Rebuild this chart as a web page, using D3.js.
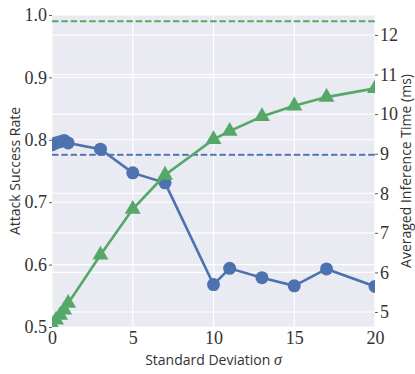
<!DOCTYPE html>
<html>
<head>
<meta charset="utf-8">
<script src="https://cdn.jsdelivr.net/npm/d3@7"></script>
<style>
  body { margin: 0; background: #fff; }
  .tick text { font-family: "Liberation Serif", serif; font-size: 18px; fill: #333; }
  .axisLabel { font-family: "Open Sans", "DejaVu Sans", sans-serif; font-size: 14px; fill: #333; }
</style>
</head>
<body>
<div class="chart"></div>
<script>
// sigma values on the x axis
var sigma = [0, 0.25, 0.5, 0.75, 1, 3, 5, 7, 10, 11, 13, 15, 17, 20];
// attack success rate (left axis)
var asr = [0.792, 0.795, 0.797, 0.799, 0.795, 0.785, 0.747, 0.731, 0.568, 0.594, 0.579, 0.566, 0.593, 0.565];
// averaged inference time in ms (right axis)
var infTime = [4.68, 4.8, 4.92, 5.05, 5.22, 6.44, 7.6, 8.46, 9.36, 9.57, 9.94, 10.21, 10.43, 10.65];
// baselines (dashed)
var asrBaseline = 0.776;
var timeBaseline = 12.35;

var xTicks = [0, 5, 10, 15, 20];
var leftTicks = [0.5, 0.6, 0.7, 0.8, 0.9, 1.0];
var rightTicks = [5, 6, 7, 8, 9, 10, 11, 12];

var svgWidth = 415, svgHeight = 374;
var margin = { top: 15, right: 40, bottom: 47, left: 52 };
var chartWidth = svgWidth - margin.left - margin.right;   // 323
var chartHeight = svgHeight - margin.top - margin.bottom; // 312

var blue = "#4C72B0", green = "#55A868";

var svg = d3.select(".chart").append("svg")
  .attr("width", svgWidth)
  .attr("height", svgHeight);

var chartGroup = svg.append("g")
  .attr("transform", `translate(${margin.left}, ${margin.top})`);

// scales
var xScale = d3.scaleLinear().domain([0, 20]).range([0, chartWidth]);
var yLeft = d3.scaleLinear().domain([0.5, 1.0]).range([chartHeight, 0]);
var yRight = d3.scaleLinear().domain([4.62, 12.505]).range([chartHeight, 0]);

// background
chartGroup.append("rect")
  .attr("width", chartWidth)
  .attr("height", chartHeight)
  .attr("fill", "#EAEAF2");

// grid lines: x, left y and right y
var grid = chartGroup.append("g").attr("stroke", "#fff").attr("stroke-width", 1.1);
grid.selectAll(".gx").data(xTicks).enter().append("line")
  .attr("x1", d => xScale(d)).attr("x2", d => xScale(d))
  .attr("y1", 0).attr("y2", chartHeight);
grid.selectAll(".gl").data(leftTicks).enter().append("line")
  .attr("x1", 0).attr("x2", chartWidth)
  .attr("y1", d => yLeft(d)).attr("y2", d => yLeft(d));
grid.selectAll(".gr").data(rightTicks).enter().append("line")
  .attr("x1", 0).attr("x2", chartWidth)
  .attr("y1", d => yRight(d)).attr("y2", d => yRight(d));

// clip like matplotlib does
svg.append("defs").append("clipPath").attr("id", "plotClip")
  .append("rect").attr("width", chartWidth).attr("height", chartHeight);

var plot = chartGroup.append("g").attr("clip-path", "url(#plotClip)");

// blue series: attack success rate
var asrLine = d3.line().x((d, i) => xScale(sigma[i])).y(d => yLeft(d));
plot.append("path")
  .datum(asr)
  .attr("d", asrLine)
  .attr("fill", "none")
  .attr("stroke", blue)
  .attr("stroke-width", 2.6);
plot.selectAll(".dot").data(asr).enter().append("circle")
  .attr("cx", (d, i) => xScale(sigma[i]))
  .attr("cy", d => yLeft(d))
  .attr("r", 6.5)
  .attr("fill", blue);

// blue baseline
plot.append("line")
  .attr("x1", 0).attr("x2", chartWidth)
  .attr("y1", yLeft(asrBaseline)).attr("y2", yLeft(asrBaseline))
  .attr("stroke", blue).attr("stroke-width", 2)
  .attr("stroke-dasharray", "6.5,2.8");

// green series: inference time (twin axis, drawn on top)
var timeLine = d3.line().x((d, i) => xScale(sigma[i])).y(d => yRight(d));
plot.append("path")
  .datum(infTime)
  .attr("d", timeLine)
  .attr("fill", "none")
  .attr("stroke", green)
  .attr("stroke-width", 2.6);
var tri = d3.symbol().type(d3.symbolTriangle).size(110);
plot.selectAll(".tri").data(infTime).enter().append("path")
  .attr("d", tri)
  .attr("transform", (d, i) => `translate(${xScale(sigma[i])}, ${yRight(d)})`)
  .attr("fill", green);

// green baseline
plot.append("line")
  .attr("x1", 0).attr("x2", chartWidth)
  .attr("y1", yRight(timeBaseline)).attr("y2", yRight(timeBaseline))
  .attr("stroke", green).attr("stroke-width", 2)
  .attr("stroke-dasharray", "6.5,2.8");

// axes
var bottomAxis = d3.axisBottom(xScale).tickValues(xTicks).tickSize(0).tickPadding(4).tickFormat(d3.format("d"));
var leftAxis = d3.axisLeft(yLeft).tickValues(leftTicks).tickSize(3).tickPadding(2).tickFormat(d3.format(".1f"));
var rightAxis = d3.axisRight(yRight).tickValues(rightTicks).tickSize(3).tickPadding(2).tickFormat(d3.format("d"));

chartGroup.append("g")
  .attr("transform", `translate(0, ${chartHeight})`)
  .call(bottomAxis);
chartGroup.append("g").call(leftAxis);
chartGroup.append("g")
  .attr("transform", `translate(${chartWidth}, 0)`)
  .call(rightAxis);

chartGroup.selectAll(".domain").remove();
chartGroup.selectAll(".tick line").attr("stroke", "#333").attr("stroke-width", 0.8);

// axis labels
svg.append("text")
  .attr("class", "axisLabel")
  .attr("transform", `translate(20, ${margin.top + chartHeight / 2}) rotate(-90)`)
  .attr("text-anchor", "middle")
  .text("Attack Success Rate");

svg.append("text")
  .attr("class", "axisLabel")
  .attr("transform", `translate(411, ${margin.top + chartHeight / 2}) rotate(-90)`)
  .attr("text-anchor", "middle")
  .text("Averaged Inference Time (ms)");

var xLabel = svg.append("text")
  .attr("class", "axisLabel")
  .attr("x", margin.left + chartWidth / 2)
  .attr("y", 365)
  .attr("text-anchor", "middle");
xLabel.append("tspan").text("Standard Deviation ");
xLabel.append("tspan")
  .style("font-family", "'Liberation Serif', serif")
  .style("font-style", "italic")
  .style("font-size", "16px")
  .text("σ");
</script>
</body>
</html>
